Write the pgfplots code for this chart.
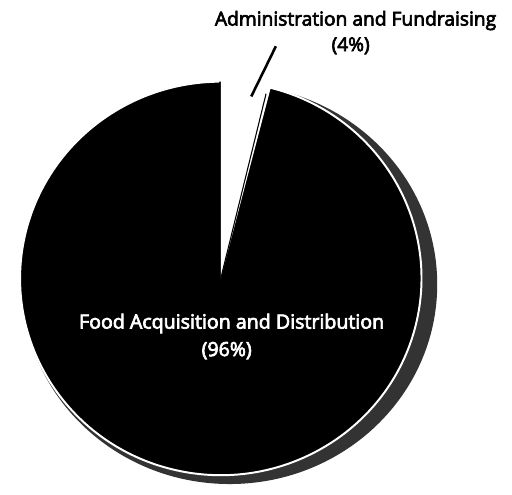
\documentclass[border=0pt]{standalone}
\usepackage{pgfplots}
\usepackage{pgfplotstable}
\usepackage{fontspec}
\setmainfont{Open Sans}
\newfontfamily\lab{Open Sans}[FakeBold=3.5]
\pgfplotsset{compat=1.18}
\pgfplotstableread{
label value
Food 96
Admin 4
}\piedata
\pgfplotstablegetelem{0}{value}\of\piedata \let\vA\pgfplotsretval
\pgfplotstablegetelem{1}{value}\of\piedata \let\vB\pgfplotsretval
\pgfmathsetmacro\angA{\vA/(\vA+\vB)*360}
\pgfmathsetmacro\endA{90+\angA}
\pgfmathsetmacro\startB{\endA-360}
\pgfmathsetmacro\lineang{\startB+0.9}
\begin{document}
\begin{tikzpicture}
\begin{axis}[
  width=512bp, height=498bp, scale only axis,
  xmin=0, xmax=512, ymin=0, ymax=498,
  hide axis, clip=false,
]
\path (axis cs:0,0) rectangle (axis cs:512,498);
% shadow
\fill[black!80] (axis cs:225,209) ellipse [x radius=211bp, y radius=203bp];
% large slice
\fill[black] (axis cs:216,215) -- ++(90:204bp and 200bp)
  arc[start angle=90, end angle=\endA, x radius=204bp, y radius=200bp] -- cycle;
\draw[white, line width=2bp] (axis cs:216,215) ++(\startB+2:204bp and 200bp)
  arc[start angle=\startB+2, end angle=-270+0.5, x radius=204bp, y radius=200bp];
% small slice
\fill[white] (axis cs:216,215) -- ++(\startB:204bp and 200bp)
  arc[start angle=\startB, end angle=90, x radius=204bp, y radius=200bp] -- cycle;
\draw[black, line width=1.1bp] (axis cs:216,215) -- ++(\lineang:197bp and 193bp);
% leader line
\draw[black, line width=2.6bp] (axis cs:272,451) -- (axis cs:247,400);
% labels
\node[anchor=base, font=\lab\fontsize{19.6}{22}\selectfont] at (axis cs:353,472) {Administration and Fundraising};
\node[anchor=base, font=\lab\fontsize{19.6}{22}\selectfont] at (axis cs:348,446) {(4\%)};
\node[anchor=base, text=white, font=\lab\fontsize{20}{22}\selectfont] at (axis cs:227,164) {Food Acquisition and Distribution};
\node[anchor=base, text=white, font=\lab\fontsize{20}{22}\selectfont] at (axis cs:222,136) {(96\%)};
\end{axis}
\end{tikzpicture}
\end{document}
